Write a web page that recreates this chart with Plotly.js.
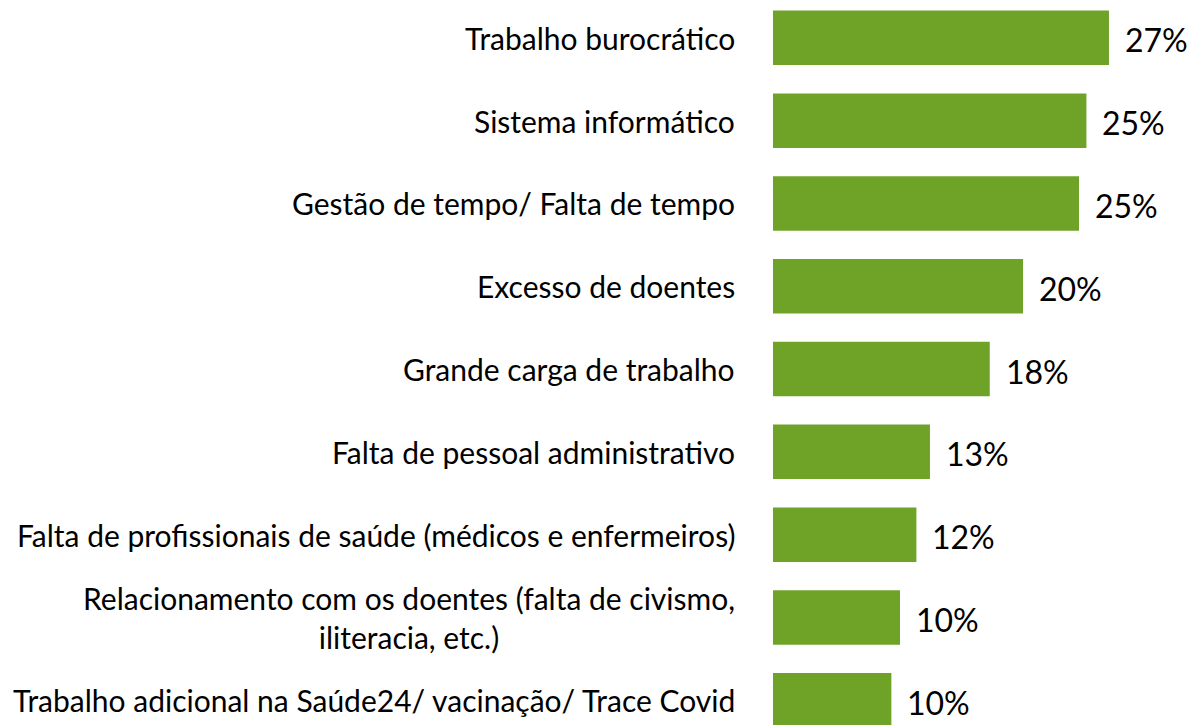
<!DOCTYPE html>
<html>
<head>
<meta charset="utf-8">
<script src="https://cdn.plot.ly/plotly-3.0.1.min.js"></script>
<style>html,body{margin:0;padding:0;background:#fff;}#chart{width:1196px;height:725px;}</style>
</head>
<body>
<div id="chart"></div>
<script>
const categories = [
  "Trabalho burocrático",
  "Sistema informático",
  "Gestão de tempo/ Falta de tempo",
  "Excesso de doentes",
  "Grande carga de trabalho",
  "Falta de pessoal administrativo",
  "Falta de profissionais de saúde (médicos e enfermeiros)",
  "Relacionamento com os doentes (falta de civismo,<br>iliteracia, etc.)",
  "Trabalho adicional na Saúde24/ vacinação/ Trace Covid"
];
const values = [27.25, 25.42, 24.82, 20.28, 17.58, 12.73, 11.63, 10.30, 9.60];
const valueLabels = ["27%", "25%", "25%", "20%", "18%", "13%", "12%", "10%", "10%"];

const idx = categories.map((c, i) => i);

const trace = {
  type: 'bar',
  orientation: 'h',
  x: values,
  y: idx,
  marker: {color: '#6FA328'},
  width: 0.658,
  hoverinfo: 'skip'
};

const annotations = [];
categories.forEach((c, i) => {
  annotations.push({
    xref: 'paper', yref: 'y', x: 0, y: i,
    xanchor: 'right', yanchor: 'middle', xshift: -36,
    text: c, showarrow: false, align: 'center',
    font: {family: 'Lato, sans-serif', size: 30, color: '#000'}
  });
  annotations.push({
    xref: 'x', yref: 'y', x: values[i], y: i,
    xanchor: 'left', yanchor: 'middle', xshift: 14, yshift: -2,
    text: valueLabels[i], showarrow: false,
    font: {family: 'Lato, sans-serif', size: 32, color: '#000'}
  });
});

const layout = {
  width: 1196, height: 725,
  margin: {l: 773, r: 0, t: 0, b: 0, pad: 0},
  paper_bgcolor: '#fff', plot_bgcolor: '#fff',
  showlegend: false,
  xaxis: {range: [0, (1196 - 773) / 12.33], visible: false, fixedrange: true},
  yaxis: {range: [8.299, -0.457], visible: false, fixedrange: true},
  annotations: annotations
};

Plotly.newPlot('chart', [trace], layout, {displayModeBar: false, staticPlot: true});
</script>
</body>
</html>
